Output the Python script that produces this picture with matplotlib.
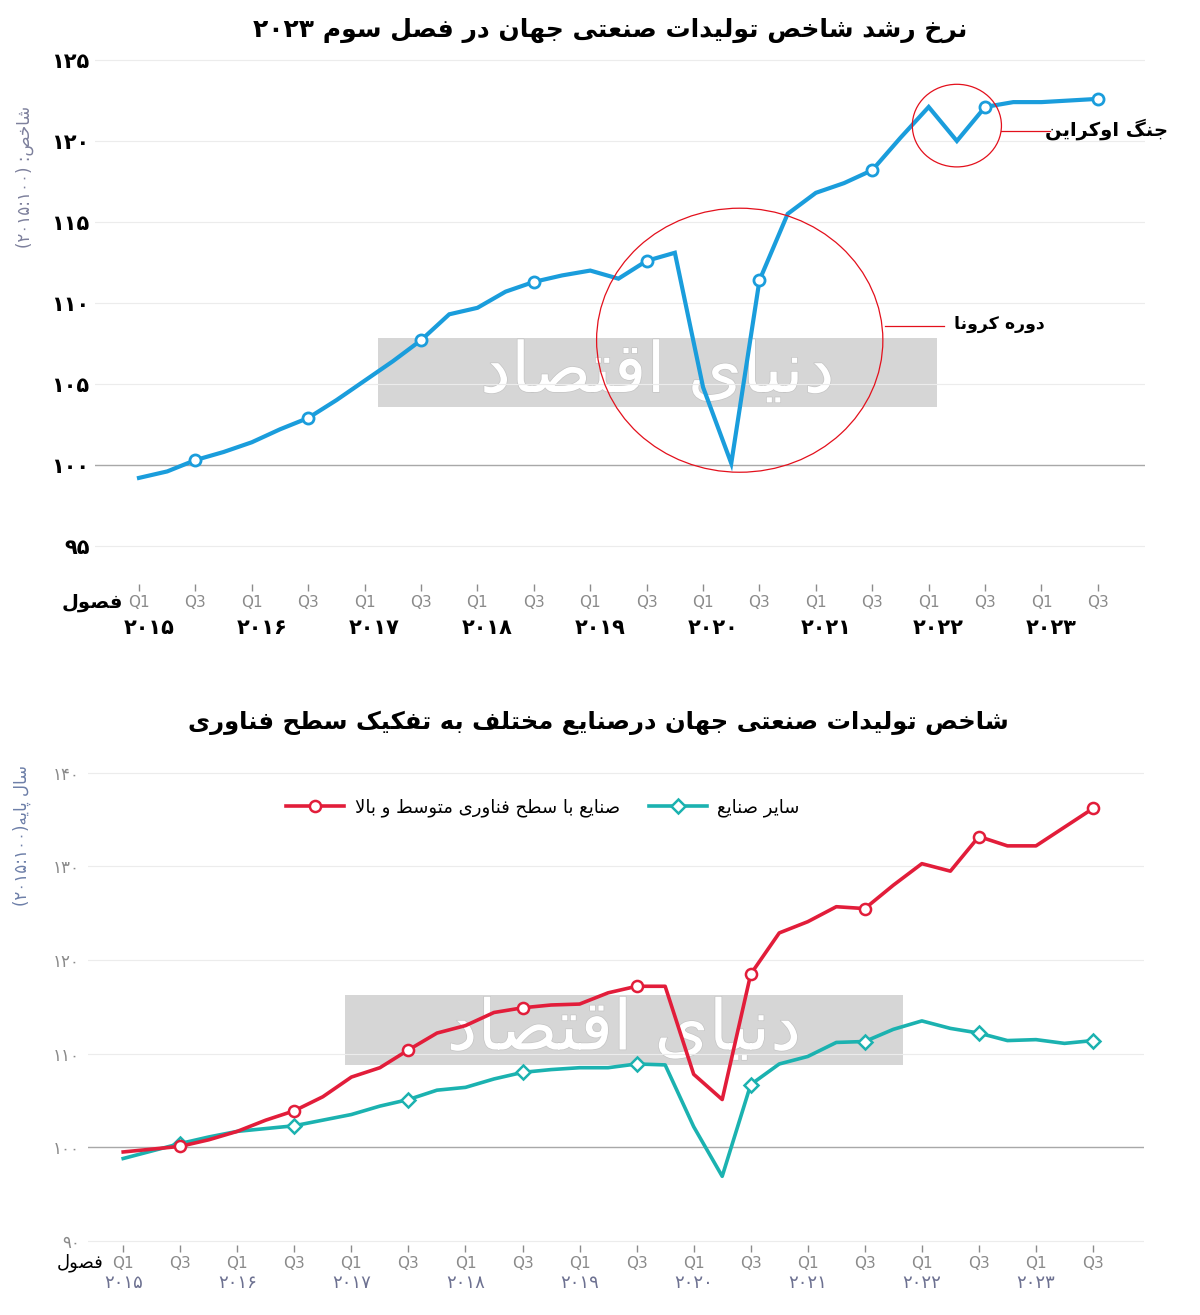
import numpy as np
import matplotlib
matplotlib.use("Agg")
import matplotlib.pyplot as plt
import matplotlib.transforms as mtransforms
import matplotlib.patheffects as pe
from matplotlib.patches import Ellipse, Rectangle

# ---- data ----
quarters = ["Q1", "Q2", "Q3", "Q4"]
years = [2015, 2016, 2017, 2018, 2019, 2020, 2021, 2022, 2023]

# top chart: world industrial production index (2015=100), Q1 2015 .. Q3 2023
world_index = [99.2, 99.6, 100.3, 100.8, 101.4, 102.2, 102.9, 104.0, 105.2, 106.4,
               107.7, 109.3, 109.7, 110.7, 111.3, 111.7, 112.0, 111.5, 112.6, 113.1,
               104.8, 100.1, 111.4, 115.5, 116.8, 117.4, 118.2, 120.2, 122.1, 120.0,
               122.1, 122.4, 122.4, 122.5, 122.6]

# bottom chart: by technology level
high_tech = [99.5, 99.8, 100.1, 100.8, 101.7, 102.9, 103.9, 105.4, 107.5, 108.5,
             110.4, 112.2, 113.0, 114.4, 114.9, 115.2, 115.3, 116.5, 117.2, 117.2,
             107.8, 105.1, 118.5, 122.9, 124.1, 125.7, 125.5, 128.0, 130.3, 129.5,
             133.2, 132.2, 132.2, 134.2, 136.2]
other_ind = [98.8, 99.6, 100.4, 101.1, 101.7, 102.0, 102.3, 102.9, 103.5, 104.4,
             105.1, 106.1, 106.4, 107.3, 108.0, 108.3, 108.5, 108.5, 108.9, 108.8,
             102.2, 96.9, 106.7, 108.9, 109.7, 111.2, 111.3, 112.6, 113.5, 112.7,
             112.2, 111.4, 111.5, 111.1, 111.4]

top_yticks = [95, 100, 105, 110, 115, 120, 125]
bot_yticks = [90, 100, 110, 120, 130, 140]

# ---- minimal persian shaping (matplotlib has no complex text layout) ----
DUAL = {'ب': 0xFE8F, 'ت': 0xFE95, 'ث': 0xFE99, 'ج': 0xFE9D, 'ح': 0xFEA1, 'خ': 0xFEA5,
        'س': 0xFEB1, 'ش': 0xFEB5, 'ص': 0xFEB9, 'ض': 0xFEBD, 'ط': 0xFEC1, 'ظ': 0xFEC5,
        'ع': 0xFEC9, 'غ': 0xFECD, 'ف': 0xFED1, 'ق': 0xFED5, 'ك': 0xFED9, 'ل': 0xFEDD,
        'م': 0xFEE1, 'ن': 0xFEE5, 'ه': 0xFEE9, 'ي': 0xFEF1, 'ئ': 0xFE89,
        'ک': 0xFB8E, 'گ': 0xFB92, 'ی': 0xFBFC, 'پ': 0xFB56, 'چ': 0xFB7A}
RIGHT = {'ا': (0xFE8D, 0xFE8E), 'آ': (0xFE81, 0xFE82), 'أ': (0xFE83, 0xFE84),
         'إ': (0xFE87, 0xFE88), 'د': (0xFEA9, 0xFEAA), 'ذ': (0xFEAB, 0xFEAC),
         'ر': (0xFEAD, 0xFEAE), 'ز': (0xFEAF, 0xFEB0), 'ژ': (0xFB8A, 0xFB8B),
         'و': (0xFEED, 0xFEEE), 'ة': (0xFE93, 0xFE94)}
LAMALEF = {'ا': (0xFEFB, 0xFEFC), 'آ': (0xFEF5, 0xFEF6), 'أ': (0xFEF7, 0xFEF8), 'إ': (0xFEF9, 0xFEFA)}
MIRROR = {'(': ')', ')': '('}


def fd(n):
    return str(n).translate(str.maketrans('0123456789', '۰۱۲۳۴۵۶۷۸۹'))


def fa(s):
    units = []
    i = 0
    while i < len(s):
        if s[i] == 'ل' and i + 1 < len(s) and s[i + 1] in LAMALEF:
            units.append(('LA', s[i + 1]))
            i += 2
        else:
            units.append(('C', s[i]))
            i += 1

    def jtype(u):
        if u[0] == 'LA':
            return 'R'
        if u[1] in DUAL:
            return 'D'
        if u[1] in RIGHT:
            return 'R'
        return None

    out = []
    for k, u in enumerate(units):
        t = jtype(u)
        if t is None:
            out.append(u[1])
            continue
        prev = jtype(units[k - 1]) if k > 0 else None
        nxt = jtype(units[k + 1]) if k + 1 < len(units) else None
        jp = prev == 'D'
        jn = t == 'D' and nxt is not None
        if u[0] == 'LA':
            out.append(chr(LAMALEF[u[1]][1] if jp else LAMALEF[u[1]][0]))
        elif t == 'R':
            out.append(chr(RIGHT[u[1]][1] if jp else RIGHT[u[1]][0]))
        else:
            off = 3 if (jp and jn) else 1 if jp else 2 if jn else 0
            out.append(chr(DUAL[u[1]] + off))

    # very small bidi: keep digit runs left-to-right, reverse the rest
    flags = [c.isdigit() or (c.isascii() and c.isalpha()) for c in out]
    for k in range(1, len(out) - 1):
        if out[k] in ':.,/' and flags[k - 1] and flags[k + 1]:
            flags[k] = True
    groups = []
    for c, f in zip(out, flags):
        if groups and groups[-1][0] == f:
            groups[-1][1].append(c)
        else:
            groups.append([f, [c]])
    vis = ''
    for f, chars in reversed(groups):
        if f:
            vis += ''.join(chars)
        else:
            vis += ''.join(MIRROR.get(c, c) for c in reversed(chars))
    return vis


plt.rcParams['font.family'] = ['DejaVu Sans']

W, H = 1200, 1315
fig = plt.figure(figsize=(W / 100, H / 100), dpi=100)
fig.patch.set_facecolor('white')


def px_axes(l, t, r, b):
    ax = fig.add_axes([l / W, 1 - b / H, (r - l) / W, (b - t) / H])
    ax.patch.set_alpha(0)
    return ax


x = np.arange(len(world_index))
xlabels = [quarters[i % 4] for i in range(0, len(x), 2)]
q3_idx = [i for i in x if i % 4 == 2]


def style_axes(ax, yticks, grid_col, base_col):
    for s in ax.spines.values():
        s.set_visible(False)
    ax.set_yticks(yticks)
    ax.tick_params(axis='y', length=0)
    ax.set_xticks(range(0, len(x), 2))
    ax.set_xticklabels(xlabels)
    ax.tick_params(axis='x', direction='out', length=5, width=1, color='#8c8c8c',
                   labelcolor='#8a8a8a', labelsize=11, pad=3)
    for v in yticks:
        ax.axhline(v, color=base_col if v == 100 else grid_col,
                   lw=1.0 if v == 100 else 0.8, zorder=1)


# ---- watermark boxes (behind the transparent axes) ----
for (l, t, r, b) in [(378, 338, 937, 407), (345, 995, 903, 1065)]:
    fig.patches.append(Rectangle((l / W, 1 - b / H), (r - l) / W, (b - t) / H,
                                 transform=fig.transFigure, color='#d6d6d6',
                                 zorder=-3, lw=0))
    wm = fig.text((l + r) / 2 / W, 1 - (t + b) / 2 / H, fa("دنیای اقتصاد"), ha='center',
                  va='center', fontsize=50, color='white', zorder=-2)
    wm.set_path_effects([pe.withStroke(linewidth=1.0, foreground='#c4c4c4')])

# ================= top chart =================
ax1 = px_axes(95, 43.8, 1145, 584)
ax1.set_xlim(-1.56, 35.67)
ax1.set_ylim(92.65, 126)
style_axes(ax1, top_yticks, '#ececec', '#a8a8a8')
ax1.set_yticklabels([fd(v) for v in top_yticks], fontsize=15, fontweight='bold', color='black')
ax1.tick_params(axis='y', pad=4)

blue = '#1a9ddc'
ax1.plot(x, world_index, color=blue, lw=3.0, zorder=3, solid_joinstyle='miter')
ax1.plot(q3_idx, [world_index[i] for i in q3_idx], 'o', ms=8, mfc='white', mec=blue,
         mew=2, zorder=4, ls='none')

# annotations
red = '#e3101c'
ax1.add_patch(Ellipse((21.3, 107.7), 10.15, 16.3, fill=False, ec=red, lw=0.9, zorder=5))
ax1.plot([26.45, 28.55], [108.6, 108.6], color=red, lw=0.9, zorder=5)
ax1.text(30.5, 108.7, fa("دوره کرونا"), fontsize=12.5, fontweight='bold',
         ha='center', va='center', color='black')
ax1.add_patch(Ellipse((29.0, 120.95), 3.16, 5.1, fill=False, ec=red, lw=0.9, zorder=5))
ax1.plot([30.57, 32.3], [120.6, 120.6], color=red, lw=0.9, zorder=5)
ax1.text(34.3, 120.7, fa("جنگ اوکراین"), fontsize=14, fontweight='bold',
         ha='center', va='center', color='black', clip_on=False)

tr1 = mtransforms.blended_transform_factory(ax1.transData, fig.transFigure)
for k, yr in enumerate(years):
    ax1.text(4 * k + 0.35, 1 - 628 / H, fd(yr), transform=tr1, ha='center', va='center',
             fontsize=15, fontweight='bold', color='black')
fig.text(92 / W, 1 - 602 / H, fa("فصول"), ha='center', va='center', fontsize=14,
         fontweight='bold', color='black')
fig.text(25 / W, 1 - 177 / H, fa("شاخص: (۲۰۱۵:۱۰۰)"), rotation=90, ha='center',
         va='center', fontsize=12, color='#7d809c')
fig.text(610 / W, 1 - 30 / H, fa("نرخ رشد شاخص تولیدات صنعتی جهان در فصل سوم ۲۰۲۳"),
         ha='center', va='center', fontsize=18, fontweight='bold', color='black')

# ================= bottom chart =================
ax2 = px_axes(88, 763.5, 1143.5, 1245)
ax2.set_xlim(-1.234, 35.77)
ax2.set_ylim(89.56, 141)
style_axes(ax2, bot_yticks, '#ececec', '#a8a8a8')
ax2.set_yticklabels([fd(v) for v in bot_yticks], fontsize=12, color='#8a8a8a')
ax2.tick_params(axis='y', pad=6)

c_red = '#e21d3a'
c_teal = '#1bb2b0'
ax2.plot(x, other_ind, color=c_teal, lw=2.6, zorder=3, marker='D', markevery=q3_idx,
         ms=7.5, mfc='white', mec=c_teal, mew=1.8, label=fa("سایر صنایع"))
ax2.plot(x, high_tech, color=c_red, lw=2.6, zorder=4, marker='o', markevery=q3_idx,
         ms=8, mfc='white', mec=c_red, mew=1.8,
         label=fa("صنایع با سطح فناوری متوسط و بالا"))
h, l = ax2.get_legend_handles_labels()
leg = fig.legend(h[::-1], l[::-1], loc='center', bbox_to_anchor=(543 / W, 1 - 808 / H),
                 ncol=2, frameon=False, fontsize=13, handlelength=3.2,
                 handletextpad=0.6, columnspacing=1.6)

tr2 = mtransforms.blended_transform_factory(ax2.transData, fig.transFigure)
for k, yr in enumerate(years):
    ax2.text(4 * k, 1 - 1283 / H, fd(yr), transform=tr2, ha='center', va='center',
             fontsize=13, color='#6d7191')
fig.text(80 / W, 1 - 1263 / H, fa("فصول"), ha='center', va='center', fontsize=13,
         color='black')
fig.text(22 / W, 1 - 835 / H, fa("سال پایه(۲۰۱۵:۱۰۰)"), rotation=90, ha='center',
         va='center', fontsize=12, color='#6d7fa8')
fig.text(598 / W, 1 - 723 / H, fa("شاخص تولیدات صنعتی جهان درصنایع مختلف به تفکیک سطح فناوری"),
         ha='center', va='center', fontsize=17.5, fontweight='bold', color='black')

fig.savefig("out.png", dpi=100, facecolor='white')
